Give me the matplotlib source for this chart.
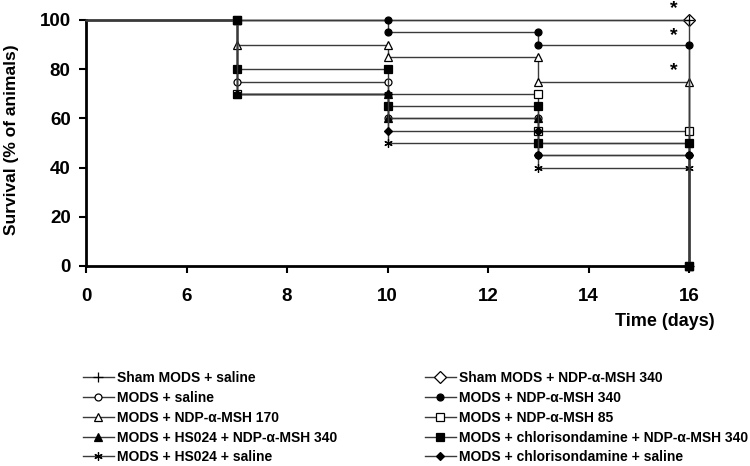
import numpy as np
import matplotlib
matplotlib.use("Agg")
import matplotlib.pyplot as plt

plt.rcParams['font.family'] = ['Liberation Sans', 'DejaVu Sans']
plt.rcParams['font.weight'] = 'bold'

# Kaplan-Meier style steps: (day, % surviving) points for each group
names = ["Sham MODS + saline", "MODS + saline", "MODS + NDP-\u03b1-MSH 170",
         "MODS + HS024 + NDP-\u03b1-MSH 340", "MODS + HS024 + saline",
         "Sham MODS + NDP-\u03b1-MSH 340", "MODS + NDP-\u03b1-MSH 340",
         "MODS + NDP-\u03b1-MSH 85", "MODS + chlorisondamine + NDP-\u03b1-MSH 340",
         "MODS + chlorisondamine + saline"]

sham_saline_t = [0, 16, 16]
sham_saline_s = [100, 100, 0]
mods_saline_t = [0, 7, 7, 10, 10, 13, 13, 16, 16]
mods_saline_s = [100, 100, 75, 75, 60, 60, 45, 45, 0]
ndp170_t = [0, 7, 7, 10, 10, 13, 13, 16, 16]
ndp170_s = [100, 100, 90, 90, 85, 85, 75, 75, 0]
hs024_ndp_t = [0, 7, 7, 10, 10, 13, 13, 16, 16]
hs024_ndp_s = [100, 100, 70, 70, 60, 60, 50, 50, 0]
hs024_saline_t = [0, 7, 7, 10, 10, 13, 13, 16, 16]
hs024_saline_s = [100, 100, 70, 70, 50, 50, 40, 40, 0]
sham_ndp_t = [0, 16]
sham_ndp_s = [100, 100]
ndp340_t = [0, 10, 10, 13, 13, 16, 16]
ndp340_s = [100, 100, 95, 95, 90, 90, 0]
ndp85_t = [0, 7, 7, 13, 13, 16, 16]
ndp85_s = [100, 100, 70, 70, 55, 55, 0]
chl_ndp_t = [0, 7, 7, 10, 10, 13, 13, 16, 16]
chl_ndp_s = [100, 100, 80, 80, 65, 65, 50, 50, 0]
chl_saline_t = [0, 7, 7, 10, 10, 13, 13, 16, 16]
chl_saline_s = [100, 100, 70, 70, 55, 55, 45, 45, 0]

times = [sham_saline_t, mods_saline_t, ndp170_t, hs024_ndp_t, hs024_saline_t,
         sham_ndp_t, ndp340_t, ndp85_t, chl_ndp_t, chl_saline_t]
surv = [sham_saline_s, mods_saline_s, ndp170_s, hs024_ndp_s, hs024_saline_s,
        sham_ndp_s, ndp340_s, ndp85_s, chl_ndp_s, chl_saline_s]

# significance stars: (day, level)
star_days = [15.7, 15.7, 15.7]
star_levels = [104.5, 93.5, 79.5]

xticks = [0, 6, 8, 10, 12, 14, 16]
yticks = [0, 20, 40, 60, 80, 100]

markers = ['+', 'o', '^', '^', (6, 2, 0), 'D', 'o', 's', 's', 'D']
faces = ['k', 'white', 'white', 'k', 'k', 'white', 'k', 'white', 'k', 'k']
msizes = [7, 5, 6, 5.5, 6, 6, 5, 5.5, 5.5, 4]


def fwd(d):
    d = np.asarray(d, dtype=float)
    return np.where(d < 6, d / 6.0, (d - 4) / 2.0)


def inv(p):
    p = np.asarray(p, dtype=float)
    return np.where(p < 1, p * 6.0, 2 * p + 4)


fig = plt.figure(figsize=(7.5, 4.66), dpi=100)
ax = fig.add_axes([86/750, 1 - 266/466, (689 - 86)/750, (266 - 20)/466])
ax.set_xscale('function', functions=(fwd, inv))

handles = []
for i in range(len(names)):
    h, = ax.plot(times[i], surv[i], color='#3a3a3a', lw=1,
                 marker=markers[i], markersize=msizes[i],
                 markerfacecolor=faces[i], markeredgecolor='k',
                 markeredgewidth=0.9, markevery=slice(1, None),
                 clip_on=False, zorder=3 + (faces[i] == 'k'))
    handles.append(h)

for d, lv in zip(star_days, star_levels):
    ax.text(d, lv, '*', ha='center', va='center', fontsize=14,
            fontweight='bold', clip_on=False)

ax.set_xlim(0, 16)
ax.set_ylim(0, 100)
ax.set_xticks(xticks)
ax.set_xticklabels([str(t) for t in xticks])
ax.minorticks_off()
ax.set_yticks(yticks)
for s in ['top', 'right']:
    ax.spines[s].set_visible(False)
for s in ['left', 'bottom']:
    ax.spines[s].set_linewidth(2)
ax.tick_params(axis='both', direction='out', length=5, width=1.5,
               labelsize=13.5, pad=6)
ax.tick_params(axis='x', pad=11)
for lab in ax.get_xticklabels() + ax.get_yticklabels():
    lab.set_fontweight('bold')

fig.text(0.016, 1 - 140/466, 'Survival (% of animals)', rotation=90,
         ha='center', va='center', fontsize=12.5, fontweight='bold')
fig.text(715/750, 1 - 322/466, 'Time (days)', ha='right', va='center',
         fontsize=13, fontweight='bold')

leg_kw = dict(loc='upper left', frameon=False, borderaxespad=0, borderpad=0,
              handlelength=2.2, handletextpad=0.25, labelspacing=0.42,
              prop={'size': 10, 'weight': 'bold'})
fig.legend(handles[:5], names[:5], bbox_to_anchor=(83/750, 1 - 371/466), **leg_kw)
fig.legend(handles[5:], names[5:], bbox_to_anchor=(425/750, 1 - 371/466), **leg_kw)

fig.savefig('out.png', dpi=100)
